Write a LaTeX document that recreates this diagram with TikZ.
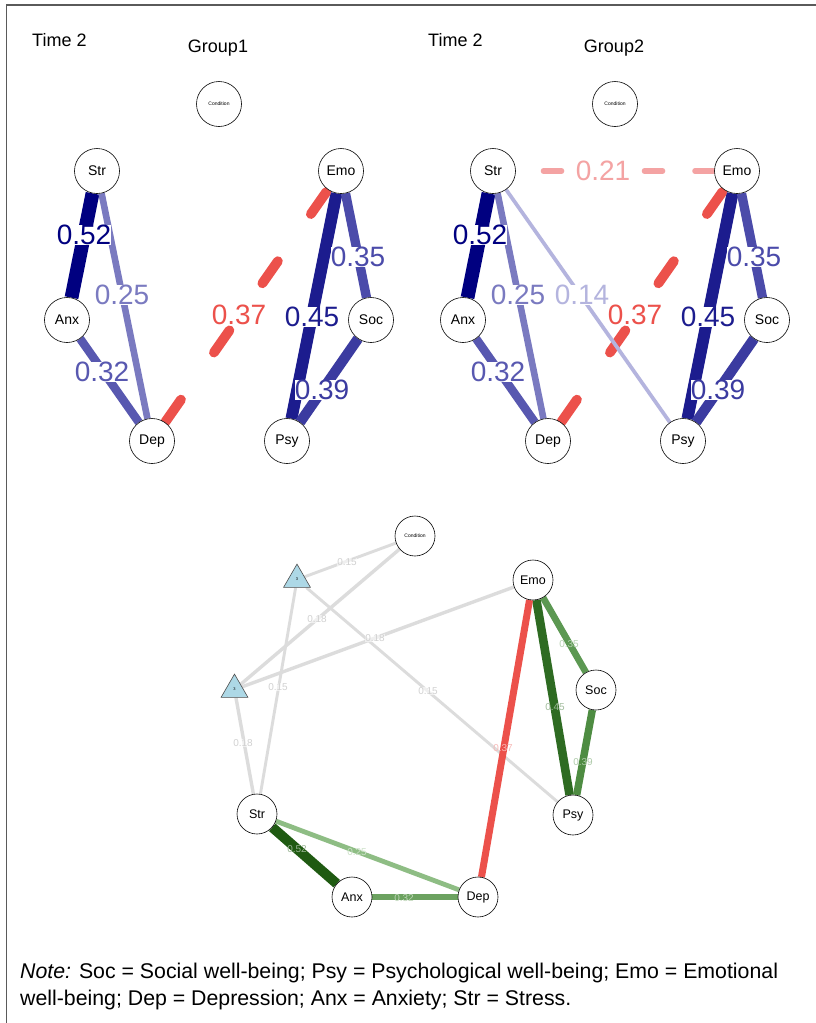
\documentclass[tikz,border=0pt]{standalone}
\usepackage{fontspec}
\setmainfont{Liberation Sans}
\usetikzlibrary{shapes.geometric}
\pgfdeclarelayer{back}
\pgfdeclarelayer{edges}
\pgfsetlayers{back,edges,main}

% blue scale (positive partial correlations, top panels)
\definecolor{bA}{RGB}{0,0,128}
\definecolor{bB}{RGB}{28,28,142}
\definecolor{bC}{RGB}{59,59,160}
\definecolor{bD}{RGB}{75,75,170}
\definecolor{bE}{RGB}{88,88,176}
\definecolor{bF}{RGB}{122,122,192}
\definecolor{bG}{RGB}{180,180,222}
% red scale (negative)
\definecolor{rA}{RGB}{236,81,75}
\definecolor{rB}{RGB}{244,163,163}
% green scale (bottom network)
\definecolor{gA}{RGB}{31,90,18}
\definecolor{gB}{RGB}{46,107,34}
\definecolor{gC}{RGB}{78,140,66}
\definecolor{gD}{RGB}{92,152,82}
\definecolor{gE}{RGB}{108,162,96}
\definecolor{gF}{RGB}{142,189,132}
\definecolor{gL}{RGB}{220,220,220}
\definecolor{triblue}{RGB}{173,216,230}
\definecolor{framegray}{RGB}{90,90,90}

\tikzset{
  vtx/.style={circle, draw=black, line width=0.6pt, fill=white,
    minimum size=45pt, inner sep=0pt, font=\fontsize{14}{14}\selectfont},
  vtxs/.style={vtx, minimum size=40pt, font=\fontsize{12.5}{12.5}\selectfont},
  cond/.style={vtx, font=\fontsize{5}{5}\selectfont},
  tri/.style={regular polygon, regular polygon sides=3, minimum size=31pt,
    inner sep=0pt, draw=black!70, fill=triblue, line width=0.6pt,
    font=\fontsize{4}{4}\selectfont},
  wlab/.style={fill=white, inner sep=0pt, font=\fontsize{28}{28}\selectfont},
  slab/.style={inner sep=0pt, font=\fontsize{10}{10}\selectfont},
  glab/.style={slab, fill=white, fill opacity=0.55, text opacity=1, text=black!18},
  ttl/.style={anchor=base, inner sep=0pt, font=\fontsize{18}{18}\selectfont},
  notetext/.style={anchor=base west, inner sep=0pt, font=\fontsize{21.3}{27}\selectfont}
}

% one Time-2 network panel: #1 name prefix, #2 horizontal offset, #3 title
\newcommand\netpanel[3]{%
  \node[ttl, anchor=base west] (#1time) at ({#2+32},46) {Time 2};
  \node[ttl] (#1title) at ({#2+218},52) {#3};
  \node[cond] (#1con) at ({#2+219},104) {Condition};
  \node[vtx] (#1str) at ({#2+97},171) {Str};
  \node[vtx] (#1emo) at ({#2+341},171) {Emo};
  \node[vtx] (#1anx) at ({#2+67},320) {Anx};
  \node[vtx] (#1soc) at ({#2+371},320) {Soc};
  \node[vtx] (#1dep) at ({#2+152},441) {Dep};
  \node[vtx] (#1psy) at ({#2+287},441) {Psy};
  \begin{pgfonlayer}{edges}
    \draw[bA, line width=13.8pt] (#1str) -- (#1anx);
    \draw[bF, line width=6.6pt] (#1str) -- (#1dep);
    \draw[bE, line width=8.5pt] (#1anx) -- (#1dep);
    \draw[bB, line width=11.9pt] (#1emo) -- (#1psy);
    \draw[bD, line width=9.3pt] (#1emo) -- (#1soc);
    \draw[bC, line width=10.3pt] (#1soc) -- (#1psy);
    \draw[rA, line width=9.8pt, line cap=round,
      dash pattern=on 27pt off 57.5pt, dash phase=61pt] (#1dep.center) -- (#1emo.center);
  \end{pgfonlayer}
  \node[wlab, text=bA] (#1l52) at ({#2+84},235) {0.52};
  \node[wlab, text=bF] (#1l25) at ({#2+122},295) {0.25};
  \node[wlab, text=bE] (#1l32) at ({#2+102},372) {0.32};
  \node[wlab, text=bD] (#1l35) at ({#2+358},257) {0.35};
  \node[wlab, text=bB] (#1l45) at ({#2+312},317) {0.45};
  \node[wlab, text=bC] (#1l39) at ({#2+322},390) {0.39};
  \node[wlab, text=rA] (#1l37) at ({#2+239},315) {0.37};
}

\begin{document}
\begin{tikzpicture}[x=1pt, y=-1pt]
  \useasboundingbox (0,0) rectangle (816,1023);
  \begin{pgfonlayer}{back}
    \fill[white] (0,0) rectangle (816,1023);
  \end{pgfonlayer}
  % frame
  \draw[framegray, line width=1.6pt] (6,5) -- (816,5);
  \draw[framegray, line width=1pt] (6.5,5) -- (6.5,1023);

  % top panels
  \netpanel{a}{0}{Group1}
  \netpanel{b}{396}{Group2}
  \begin{pgfonlayer}{edges}
    \draw[bG, line width=3.7pt] (bstr) -- (bpsy);
    \draw[rB, line width=5.6pt, line cap=round,
      dash pattern=on 18pt off 32.5pt] (bstr.center) -- (bemo.center);
  \end{pgfonlayer}
  \node[wlab, text=bG] (bl14) at (582,295) {0.14};
  \node[wlab, text=rB] (bl21) at (603,171) {0.21};

  % bottom network
  \node[cond, minimum size=40pt] (ccon) at (415,536) {Condition};
  \node[tri] (ct1) at (297,579.6) {3};
  \node[tri] (ct2) at (234.5,689.6) {3};
  \node[vtxs] (cstr) at (257,814) {Str};
  \node[vtxs] (canx) at (352,897) {Anx};
  \node[vtxs] (cdep) at (478,897) {Dep};
  \node[vtxs] (cemo) at (533,580) {Emo};
  \node[vtxs] (csoc) at (596,690) {Soc};
  \node[vtxs] (cpsy) at (573,815) {Psy};
  \begin{pgfonlayer}{edges}
    \draw[gL, line width=2.9pt] (ccon) -- (ct1);
    \draw[gL, line width=3.4pt] (ccon) -- (ct2);
    \draw[gL, line width=3.4pt] (cemo) -- (ct2);
    \draw[gL, line width=2.9pt] (ct1) -- (cstr);
    \draw[gL, line width=3.4pt] (ct2) -- (cstr);
    \draw[gL, line width=2.9pt] (ct1) -- (cpsy);
    \draw[gA, line width=9.9pt] (cstr) -- (canx);
    \draw[gF, line width=4.8pt] (cstr) -- (cdep);
    \draw[gE, line width=6.1pt] (canx) -- (cdep);
    \draw[gB, line width=8.6pt] (cemo) -- (cpsy);
    \draw[gD, line width=6.7pt] (cemo) -- (csoc);
    \draw[gC, line width=7.4pt] (csoc) -- (cpsy);
    \draw[rA, line width=7pt] (cdep) -- (cemo);
  \end{pgfonlayer}
  \node[glab] (cl1) at (347,562) {0.15};
  \node[glab] (cl2) at (317,619) {0.18};
  \node[glab] (cl3) at (375,638) {0.18};
  \node[glab] (cl4) at (278,687) {0.15};
  \node[glab] (cl5) at (243,743) {0.18};
  \node[glab] (cl6) at (428,691) {0.15};
  \node[slab, text=gA!45!white] (cl52) at (297,849) {0.52};
  \node[slab, text=gF!45!white] (cl25) at (357,852) {0.25};
  \node[slab, text=gE!45!white] (cl32) at (404,898) {0.32};
  \node[slab, text=rA!40!white] (cl37) at (503,748) {0.37};
  \node[slab, text=gB!45!white] (cl45) at (555,707) {0.45};
  \node[slab, text=gD!45!white] (cl35) at (569,644) {0.35};
  \node[slab, text=gC!45!white] (cl39) at (583,762) {0.39};

  % note
  \node[notetext] (note1) at (20,978) {\textit{Note:} Soc = Social well-being; Psy = Psychological well-being; Emo = Emotional};
  \node[notetext] (note2) at (20,1005) {well-being; Dep = Depression; Anx = Anxiety; Str = Stress.};
\end{tikzpicture}
\end{document}
